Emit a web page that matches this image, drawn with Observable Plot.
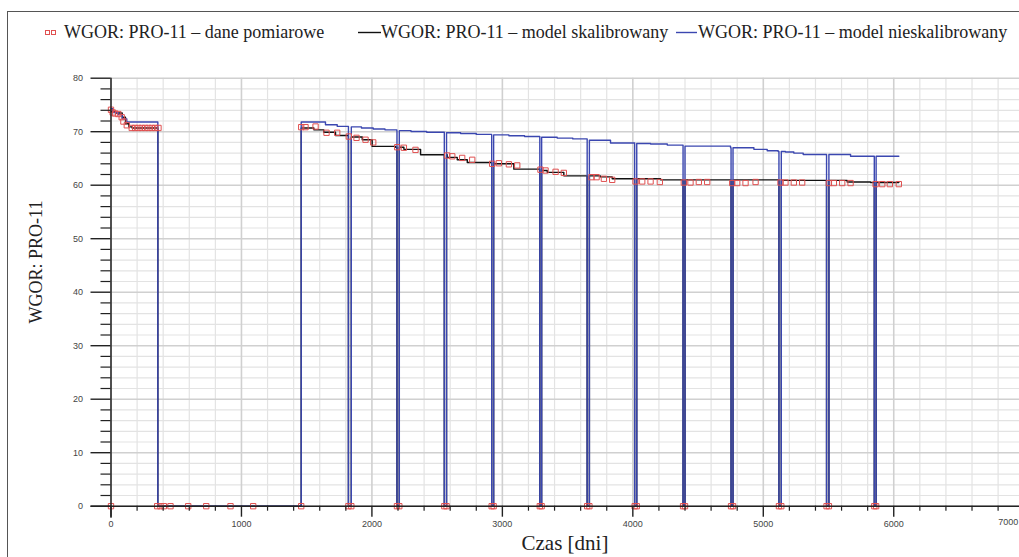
<!DOCTYPE html>
<html>
<head>
<meta charset="utf-8">
<script src="https://cdn.jsdelivr.net/npm/d3@7"></script>
<script src="https://cdn.jsdelivr.net/npm/@observablehq/plot@0.6"></script>
<style>
  body { margin: 0; background: #fff; }
  #wrap { position: relative; width: 1019px; height: 557px; overflow: hidden; background: #fff; }
  #chart { position: absolute; left: 0; top: 0; }
  #frame { position: absolute; left: 7px; top: 11px; width: 1100px; height: 700px; border-left: 1px solid #555; border-top: 1px solid #555; }
  .lg { position: absolute; top: 21px; height: 22px; line-height: 22px; font-family: "Liberation Serif", "Times New Roman", serif; font-size: 18px; color: #222; white-space: nowrap; }
  .sw { position: absolute; }
  #ytitle { position: absolute; left: 36px; top: 262px; transform: translate(-50%, -50%) rotate(-90deg); font-family: "Liberation Serif", serif; font-size: 18px; color: #222; white-space: nowrap; }
  #xtitle { position: absolute; left: 565px; top: 532px; transform: translateX(-50%); font-family: "Liberation Serif", serif; font-size: 21px; color: #222; white-space: nowrap; line-height: 22px; }
</style>
</head>
<body>
<div id="wrap">
  <div id="chart"></div>
  <div id="frame"></div>
  <svg class="sw" style="left:44px;top:29px" width="14" height="7"><rect x="1.5" y="1.5" width="4" height="4" fill="none" stroke="#e05050" stroke-width="1"/><rect x="7.5" y="1.5" width="4" height="4" fill="none" stroke="#e05050" stroke-width="1"/></svg>
  <div class="lg" id="lg1" style="left:64px"></div>
  <svg class="sw" style="left:358px;top:31px" width="23" height="3"><line x1="0" y1="1.5" x2="23" y2="1.5" stroke="#111" stroke-width="1.4"/></svg>
  <div class="lg" id="lg2" style="left:381px"></div>
  <svg class="sw" style="left:676px;top:31px" width="21" height="3"><line x1="0" y1="1.5" x2="21" y2="1.5" stroke="#3b47b0" stroke-width="1.4"/></svg>
  <div class="lg" id="lg3" style="left:698px"></div>
  <div id="ytitle"></div>
  <div id="xtitle"></div>
</div>
<script>
// ---- texts ----
const seriesNames = ["WGOR: PRO-11 – dane pomiarowe", "WGOR: PRO-11 – model skalibrowany", "WGOR: PRO-11 – model nieskalibrowany"];
const yTitle = "WGOR: PRO-11";
const xTitle = "Czas [dni]";

// ---- ticks ----
const xTicks = [0, 1000, 2000, 3000, 4000, 5000, 6000];
const xLastTick = [7000];
const xMinorTicks = [200, 400, 600, 800, 1200, 1400, 1600, 1800, 2200, 2400, 2600, 2800, 3200, 3400, 3600, 3800, 4200, 4400, 4600, 4800, 5200, 5400, 5600, 5800, 6200, 6400, 6600, 6800];
const yTicks = [0, 10, 20, 30, 40, 50, 60, 70, 80];
const yMinorTicks = [2, 4, 6, 8, 12, 14, 16, 18, 22, 24, 26, 28, 32, 34, 36, 38, 42, 44, 46, 48, 52, 54, 56, 58, 62, 64, 66, 68, 72, 74, 76, 78];

// ---- shut-in periods (days) ----
const shutStart = [359, 1820, 2192, 2555, 2918, 3287, 3650, 4014, 4385, 4753, 5120, 5485, 5851];
const shutEnd   = [1458, 1842, 2210, 2572, 2933, 3301, 3667, 4030, 4400, 4768, 5138, 5503, 5865];
const modelEnd = 6039;

// ---- model: uncalibrated (blue) step values ----
const blueDays = [0, 13, 56, 86, 121, 1458, 1644, 1734, 1826, 1920, 2010, 2100, 2191, 2300, 2420, 2557, 2680, 2800, 2922, 3050, 3170, 3287, 3420, 3540, 3653, 3829, 4018, 4136, 4264, 4391, 4749, 4928, 5030, 5114, 5170, 5234, 5306, 5669];
const blueVals = [74.3, 73.6, 73.2, 72.4, 71.8, 71.8, 71.3, 71.0, 70.9, 70.7, 70.5, 70.35, 70.2, 70.05, 69.9, 69.8, 69.65, 69.5, 69.4, 69.25, 69.1, 68.95, 68.8, 68.65, 68.4, 67.9, 67.8, 67.7, 67.5, 67.3, 67.0, 66.7, 66.45, 66.3, 66.2, 66.0, 65.75, 65.4];

// ---- model: calibrated (black) step values ----
const blackDays = [0, 35, 86, 111, 137, 162, 1458, 1555, 1631, 1721, 1823, 1926, 2002, 2181, 2245, 2373, 2577, 2654, 2731, 2934, 3088, 3292, 3344, 3471, 3752, 3842, 4212, 5132, 5643, 5822];
const blackVals = [73.8, 73.5, 72.7, 71.5, 70.9, 70.7, 70.7, 70.35, 69.9, 69.3, 69.0, 68.5, 67.25, 67.1, 66.7, 65.7, 65.2, 64.75, 64.25, 64.0, 63.0, 62.75, 62.4, 61.75, 61.55, 61.2, 61.0, 60.9, 60.6, 60.5];

// ---- measurements (red squares) ----
const measDays = [0, 13, 31, 56, 82, 95, 121, 159, 185, 210, 236, 262, 287, 313, 339, 364,
  0, 354, 379, 405, 456, 592, 730, 916, 1090, 1458,
  1458, 1491, 1568, 1652, 1734, 1823, 1882, 1951, 2010, 2194, 2245, 2334, 2577, 2616, 2692, 2769, 2922, 2973, 3050, 3114, 3292, 3331, 3408, 3471, 3683, 3722, 3778, 3842,
  4021, 4072, 4136, 4207, 4391, 4442, 4506, 4570, 4762, 4800, 4864, 4941, 5132, 5170, 5234, 5298, 5503, 5541, 5605, 5669, 5861, 5912, 5970, 6039,
  1820, 1842, 2192, 2210, 2555, 2572, 2918, 2933, 3287, 3301, 3650, 3667, 4014, 4030, 4385, 4400, 4753, 4768, 5120, 5138, 5485, 5503, 5851, 5865];
const measVals = [74.1, 73.6, 73.4, 73.3, 72.7, 71.9, 71.2, 70.7, 70.7, 70.7, 70.7, 70.7, 70.7, 70.7, 70.7, 70.7,
  0, 0, 0, 0, 0, 0, 0, 0, 0, 0,
  70.85, 70.85, 70.97, 69.8, 69.8, 69.1, 68.85, 68.5, 68.0, 67.1, 67.0, 66.6, 65.55, 65.4, 65.1, 64.75, 64.0, 64.1, 63.9, 63.7, 62.9, 62.75, 62.5, 62.3, 61.5, 61.5, 61.2, 61.0,
  60.7, 60.7, 60.7, 60.6, 60.5, 60.5, 60.6, 60.6, 60.4, 60.4, 60.4, 60.6, 60.5, 60.5, 60.5, 60.5, 60.4, 60.4, 60.4, 60.4, 60.2, 60.2, 60.2, 60.2,
  0, 0, 0, 0, 0, 0, 0, 0, 0, 0, 0, 0, 0, 0, 0, 0, 0, 0, 0, 0, 0, 0, 0, 0, 0, 0];

// build step series with shut-ins
function buildSeries(days, vals) {
  const valueAt = t => { let v = vals[0]; for (let i = 0; i < days.length; i++) if (days[i] <= t) v = vals[i]; return v; };
  const inShut = t => shutStart.some((s, i) => t >= s && t < shutEnd[i]);
  const pts = [];
  days.forEach((d, i) => { if (!inShut(d)) pts.push({t: d, v: vals[i], o: 1}); });
  shutStart.forEach((s, i) => { pts.push({t: s, v: 0, o: 0}); pts.push({t: shutEnd[i], v: valueAt(shutEnd[i]), o: 2}); });
  pts.push({t: modelEnd, v: valueAt(modelEnd), o: 3});
  pts.sort((a, b) => a.t - b.t || a.o - b.o);
  return pts;
}
const blueSeries = buildSeries(blueDays, blueVals);
const blackSeries = buildSeries(blackDays, blackVals);
const meas = measDays.map((d, i) => ({t: d, v: measVals[i]}));

document.getElementById("lg1").textContent = seriesNames[0];
document.getElementById("lg2").textContent = seriesNames[1];
document.getElementById("lg3").textContent = seriesNames[2];
document.getElementById("ytitle").textContent = yTitle;
document.getElementById("xtitle").textContent = xTitle;

const W = 1019, H = 557;
const chart = Plot.plot({
  width: W, height: H,
  marginLeft: 110.5, marginRight: -4.7, marginTop: 77.7, marginBottom: H - 505.7,
  x: {domain: [0, 7000]},
  y: {domain: [0, 80]},
  style: {fontFamily: "'Liberation Sans', Arial, sans-serif", fontSize: "9px", color: "#444", background: "transparent", overflow: "visible"},
  marks: [
    Plot.ruleX(xMinorTicks, {stroke: "#e3e3e3", strokeWidth: 1.2}),
    Plot.ruleY(yMinorTicks, {stroke: "#e3e3e3", strokeWidth: 1.2}),
    Plot.ruleX(xTicks.concat(xLastTick), {stroke: "#d0d0d0", strokeWidth: 1.6}),
    Plot.ruleY(yTicks, {stroke: "#d0d0d0", strokeWidth: 1.6}),
    Plot.line(blackSeries, {x: "t", y: "v", curve: "step-after", stroke: "#111", strokeWidth: 1.4}),
    Plot.line(blueSeries, {x: "t", y: "v", curve: "step-after", stroke: "#3b47b0", strokeWidth: 1.4}),
    Plot.dot(meas, {x: "t", y: "v", symbol: "square", r: 3, stroke: "#e05050", strokeWidth: 1, fill: "none"}),
    Plot.ruleY([0], {stroke: "#222", strokeWidth: 1.5, insetLeft: -20}),
    Plot.ruleX([0], {stroke: "#222", strokeWidth: 1.5, insetBottom: -12}),
    Plot.axisY({ticks: yTicks, tickSize: 20, tickPadding: 8, tickFormat: d => String(d), stroke: "#222", strokeWidth: 1.4, label: null, fill: "#444"}),
    Plot.axisY({ticks: yMinorTicks, tickSize: 10, tickFormat: () => "", stroke: "#222", strokeWidth: 1.2, label: null}),
    Plot.axisX({ticks: xTicks, tickSize: 11, tickPadding: 3, tickFormat: d => String(d), stroke: "#222", strokeWidth: 1.4, label: null, fill: "#444"}),
    Plot.axisX({ticks: xMinorTicks, tickSize: 5, tickFormat: () => "", stroke: "#222", strokeWidth: 1.2, label: null}),
    Plot.text(xLastTick, {x: d => d, frameAnchor: "bottom", dy: 19, dx: -6, textAnchor: "end", text: d => String(d), fill: "#444", fontSize: 9})
  ]
});
document.getElementById("chart").appendChild(chart);
</script>
</body>
</html>
